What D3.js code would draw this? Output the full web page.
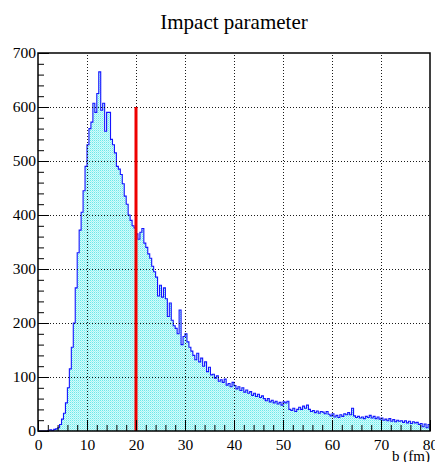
<!DOCTYPE html>
<html>
<head>
<meta charset="utf-8">
<script src="https://cdn.jsdelivr.net/npm/d3@7"></script>
<style>
  html, body { margin: 0; padding: 0; background: #fff; }
  svg { display: block; }
</style>
</head>
<body>
<svg id="chart" width="435" height="462"></svg>
<script>
// ---------- data ----------
const title = "Impact parameter";
const xLabel = "b (fm)";
const binLow = 0;
const binHigh = 80;
// counts per 0.4 fm bin, 0 .. 80 fm
const counts = [
  0,0,0,0,0, 1,2,1,3,4,
  6,12,22,33,52, 80,115,155,200,265,
  330,372,405,445,490, 530,560,572,607,590,
  625,665,594,607,555, 590,590,540,530,515,
  490,485,475,458,435, 420,400,390,380,376,
  365,355,368,375,348, 340,328,320,305,295,
  285,250,270,248,265, 245,212,237,205,195,
  190,180,224,160,175, 180,165,155,148,140,
  132,144,128,135,120, 128,110,118,104,105,
  98,102,92,95,90, 96,85,88,82,90,
  84,78,82,75,80, 72,76,70,73,66,
  70,64,68,62,65, 60,56,60,54,57,
  52,55,50,53,48, 54,52,55,40,38,
  42,36,40,44,40, 46,42,48,40,36,
  38,34,37,33,36, 35,32,36,31,28,
  32,26,29,25,30, 27,32,30,34,30,
  42,28,25,27,24, 26,23,27,25,29,
  24,27,23,26,22, 24,20,22,19,23,
  18,21,17,20,18, 19,16,19,15,18,
  14,17,15,16,12, 14,8,13,6,12
];
const xMajor = [0,10,20,30,40,50,60,70,80];
const yMajor = [0,100,200,300,400,500,600,700];
const xMinorStep = 2;
const yMinorStep = 20;
const cutValue = 20;      // red marker position (fm)
const cutHeight = 600;    // red marker height

// ---------- layout ----------
const FONT = '"Liberation Serif"';
const svg = d3.select("#chart");
const L = 38, R = 430, T = 53, B = 431;
const x = d3.scaleLinear().domain([binLow, binHigh]).range([L, R]);
const y = d3.scaleLinear().domain([0, 700]).range([B, T]);
const W = R - L, H = B - T;

const defs = svg.append("defs");
const pat = defs.append("pattern").attr("id","dots").attr("patternUnits","userSpaceOnUse")
  .attr("width",2).attr("height",2);
pat.append("rect").attr("width",2).attr("height",2).attr("fill","#d4fbfb");
pat.append("rect").attr("x",0).attr("y",0).attr("width",1).attr("height",1).attr("fill","#6ce9e9");
pat.append("rect").attr("x",1).attr("y",1).attr("width",1).attr("height",1).attr("fill","#a6f3f3");
defs.append("clipPath").attr("id","clip").append("rect")
  .attr("x",L).attr("y",T).attr("width",W).attr("height",H);

// histogram step points
const bw = (binHigh - binLow) / counts.length;
const pts = [[binLow, 0]];
counts.forEach((c, i) => {
  pts.push([binLow + i*bw, c]);
  pts.push([binLow + (i+1)*bw, c]);
});
pts.push([binHigh, 0]);

const plot = svg.append("g").attr("clip-path","url(#clip)");
plot.append("path").datum(pts)
  .attr("d", d3.area().x(d => x(d[0])).y0(y(0)).y1(d => y(d[1])))
  .attr("fill","url(#dots)");

// grid
const gx = svg.append("g").attr("transform",`translate(0,${B})`)
  .call(d3.axisBottom(x).tickValues(xMajor.slice(1,-1)).tickSize(-H).tickFormat(""));
gx.select(".domain").remove();
gx.selectAll("line").attr("stroke","#000").attr("stroke-dasharray","1,2").attr("stroke-width",0.9);
const gy = svg.append("g").attr("transform",`translate(${L},0)`)
  .call(d3.axisLeft(y).tickValues(yMajor.slice(1,-1)).tickSize(-W).tickFormat(""));
gy.select(".domain").remove();
gy.selectAll("line").attr("stroke","#000").attr("stroke-dasharray","1,2").attr("stroke-width",0.9);

// outline
plot.append("path").datum(pts)
  .attr("d", d3.line().x(d => x(d[0])).y(d => y(d[1])))
  .attr("fill","none").attr("stroke","#1414ff").attr("stroke-width",1.1);

// red marker
svg.append("line")
  .attr("x1", x(cutValue)).attr("x2", x(cutValue))
  .attr("y1", y(0)).attr("y2", y(cutHeight))
  .attr("stroke","#ee0000").attr("stroke-width",3);

// minor ticks
const xMinor = d3.range(binLow, binHigh + 0.001, xMinorStep).filter(v => !xMajor.includes(v));
const yMinor = d3.range(0, 700.001, yMinorStep).filter(v => !yMajor.includes(v));
const mx = svg.append("g").attr("transform",`translate(0,${B})`)
  .call(d3.axisBottom(x).tickValues(xMinor).tickSize(-6).tickFormat(""));
mx.select(".domain").remove();
const my = svg.append("g").attr("transform",`translate(${L},0)`)
  .call(d3.axisLeft(y).tickValues(yMinor).tickSize(-6).tickFormat(""));
my.select(".domain").remove();

// major ticks + labels
const ax = svg.append("g").attr("transform",`translate(0,${B})`)
  .call(d3.axisBottom(x).tickValues(xMajor).tickSize(-11).tickPadding(4).tickFormat(d3.format("d")));
ax.select(".domain").remove();
ax.selectAll("text").style("font-family", FONT).style("font-size","15.5px").attr("dy","0.95em");
const ay = svg.append("g").attr("transform",`translate(${L},0)`)
  .call(d3.axisLeft(y).tickValues(yMajor).tickSize(-11).tickPadding(2).tickFormat(d3.format("d")));
ay.select(".domain").remove();
ay.selectAll("text").style("font-family", FONT).style("font-size","15.5px");
svg.selectAll(".tick line").filter(function(){ return !this.getAttribute("stroke-dasharray"); })
  .attr("stroke","#000");

// frame
svg.append("rect").attr("x",L).attr("y",T).attr("width",W).attr("height",H)
  .attr("fill","none").attr("stroke","#000").attr("stroke-width",1.5);

// texts
svg.append("text").attr("x",234).attr("y",29).attr("text-anchor","middle")
  .style("font-family", FONT).style("font-size","21px").text(title);
svg.append("text").attr("x",R).attr("y",461).attr("text-anchor","end")
  .style("font-family", FONT).style("font-size","15px").text(xLabel);
</script>
</body>
</html>
